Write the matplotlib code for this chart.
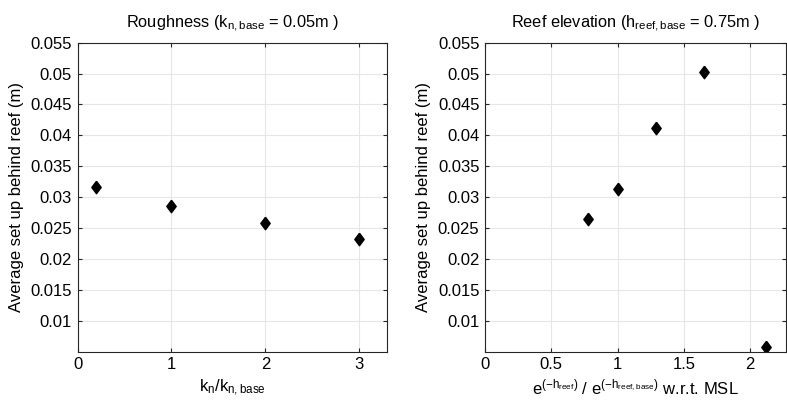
import matplotlib
matplotlib.use('Agg')
from matplotlib import pyplot as plt

plt.rcParams['font.family'] = ['Liberation Sans', 'DejaVu Sans']
plt.rcParams['mathtext.fontset'] = 'custom'
plt.rcParams['mathtext.rm'] = 'Liberation Sans'
plt.rcParams['mathtext.it'] = 'Liberation Sans'
plt.rcParams['mathtext.default'] = 'regular'
plt.rcParams['font.size'] = 12

# roughness runs
kn_ratio = [0.2, 1, 2, 3]
setup_rough = [0.0316, 0.0285, 0.0258, 0.0233]

# reef elevation runs
elev_ratio = [0.78, 1.0, 1.29, 1.65, 2.12]
setup_elev = [0.0264, 0.0313, 0.0412, 0.0503, 0.0057]

yticks = [0.01, 0.015, 0.02, 0.025, 0.03, 0.035, 0.04, 0.045, 0.05, 0.055]
yticklabels = ['0.01', '0.015', '0.02', '0.025', '0.03', '0.035', '0.04', '0.045', '0.05', '0.055']

diamond = [(0, 1), (0.75, 0), (0, -1), (-0.75, 0), (0, 1)]
axcol = '#262626'

fig = plt.figure(figsize=(7.87, 4.07), dpi=100)
ax1 = fig.add_axes([0.0987, 0.1359, 0.3934, 0.7592])
ax2 = fig.add_axes([0.6163, 0.1359, 0.3825, 0.7592])

def style(ax):
    ax.set_ylim(0.005, 0.055)
    ax.set_yticks(yticks)
    ax.set_yticklabels(yticklabels)
    ax.grid(True, color='#e6e6e6', linewidth=0.8)
    ax.set_axisbelow(True)
    ax.tick_params(direction='in', length=3, top=True, right=True, colors=axcol,
                   labelcolor='black', width=0.8, pad=4)
    for s in ax.spines.values():
        s.set_color(axcol)
        s.set_linewidth(0.8)
    ax.set_ylabel('Average set up behind reef (m)', labelpad=5)

ax1.plot(kn_ratio, setup_rough, linestyle='none', marker=diamond, ms=9, color='black')
ax1.set_xlim(0, 3.3)
ax1.set_xticks([0, 1, 2, 3])
style(ax1)
ax1.set_xlabel('k$_{n}$/k$_{n,base}$')
ax1.set_title('Roughness (k$_{n,base}$ = 0.05m )', pad=11, fontsize=11.8)

ax2.plot(elev_ratio, setup_elev, linestyle='none', marker=diamond, ms=9, color='black')
ax2.set_xlim(0, 2.27)
ax2.set_xticks([0, 0.5, 1, 1.5, 2])
ax2.set_xticklabels(['0', '0.5', '1', '1.5', '2'])
style(ax2)
ax2.set_xlabel('e$^{(-h_{reef})}$ / e$^{(-h_{reef,base})}$ w.r.t. MSL')
ax2.set_title('Reef elevation (h$_{reef,base}$ = 0.75m )', pad=11, fontsize=11.8)

fig.savefig('out.png', dpi=100)
